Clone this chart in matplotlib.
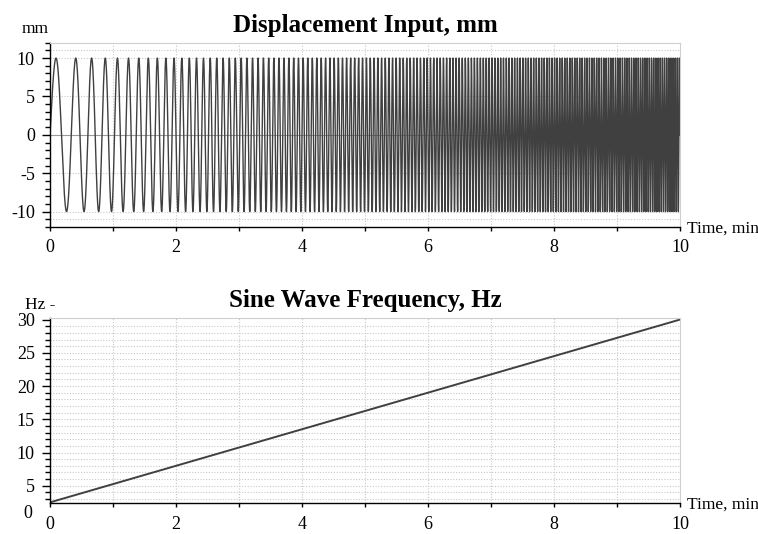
import numpy as np
import matplotlib.pyplot as plt
from matplotlib.ticker import MultipleLocator, FuncFormatter

plt.rcParams['font.family'] = ['Liberation Serif', 'DejaVu Serif']

# sweep data
freq_time = [0, 10]          # time, min
freq_hz = [2.5, 30]          # sine wave frequency, Hz
amplitude_mm = 10
disp_title = 'Displacement Input, mm'
freq_title = 'Sine Wave Frequency, Hz'
x_ticks = [0, 2, 4, 6, 8, 10]
disp_yticks = [-10, -5, 0, 5, 10]
freq_yticks = [5, 10, 15, 20, 25, 30]

# displacement is the sine sweep that follows the frequency line
t = np.linspace(freq_time[0], freq_time[1], 40001)
f_t = np.interp(t, freq_time, freq_hz)
phase = 2 * np.pi * np.concatenate([[0], np.cumsum((f_t[1:] + f_t[:-1]) / 2 * np.diff(t))])
disp = amplitude_mm * np.sin(phase)

fig = plt.figure(figsize=(7.58, 5.34), dpi=100)
ax1 = fig.add_axes([0.066, 0.575, 0.831, 0.345])
ax2 = fig.add_axes([0.066, 0.058, 0.831, 0.346])

line_col = '#404040'
grid_kw = dict(color='#c8c8c8', linestyle=(0, (1, 1.5)), linewidth=0.8)
plain = FuncFormatter(lambda v, p: '%g' % v)


def style(ax):
    for s in ['top', 'right']:
        ax.spines[s].set_color('#cfcfcf')
    for s in ['left', 'bottom']:
        ax.spines[s].set_color('black')
        ax.spines[s].set_linewidth(1.0)
    ax.set_xlim(0, 10)
    ax.set_xticks(x_ticks)
    ax.xaxis.set_minor_locator(MultipleLocator(1))
    ax.yaxis.set_major_formatter(plain)
    ax.tick_params(which='both', direction='out', width=1, labelsize=13)
    ax.tick_params(axis='y', which='major', length=6, pad=5)
    ax.tick_params(axis='y', which='minor', length=3.5)
    ax.tick_params(axis='x', which='both', length=3, pad=6)
    for xv in range(1, 10):
        ax.axvline(xv, zorder=0, **grid_kw)
    ax.text(1.012, -0.01, 'Time, min', transform=ax.transAxes, fontsize=12.5,
            ha='left', va='center')


# top: displacement
style(ax1)
ax1.plot(t, disp, color=line_col, linewidth=1.0)
ax1.axhline(0, color='#9a9a9a', linewidth=0.8, zorder=0)
ax1.set_ylim(-12, 12)
ax1.set_yticks(disp_yticks)
ax1.yaxis.set_minor_locator(MultipleLocator(1))
for yv in [-11, -10, -5, 5, 10, 11]:
    ax1.axhline(yv, zorder=0, **grid_kw)
ax1.set_title(disp_title, fontsize=18, fontweight='bold', pad=8)
ax1.text(-0.045, 1.03, 'mm', transform=ax1.transAxes, fontsize=12.5, ha='left', va='bottom')

# bottom: frequency
style(ax2)
ax2.plot(freq_time, freq_hz, color=line_col, linewidth=1.4)
ax2.set_ylim(2.4, 30.2)
ax2.set_yticks(freq_yticks)
ax2.yaxis.set_minor_locator(MultipleLocator(1))
for yv in range(3, 30):
    ax2.axhline(yv, zorder=0, **grid_kw)
ax2.set_title(freq_title, fontsize=18, fontweight='bold', pad=8)
ax2.text(-0.040, 1.03, 'Hz -', transform=ax2.transAxes, fontsize=12.5, ha='left', va='bottom')
ax2.text(-0.028, -0.055, '0', transform=ax2.transAxes, fontsize=13, ha='right', va='center')

fig.savefig('out.png', dpi=100)
